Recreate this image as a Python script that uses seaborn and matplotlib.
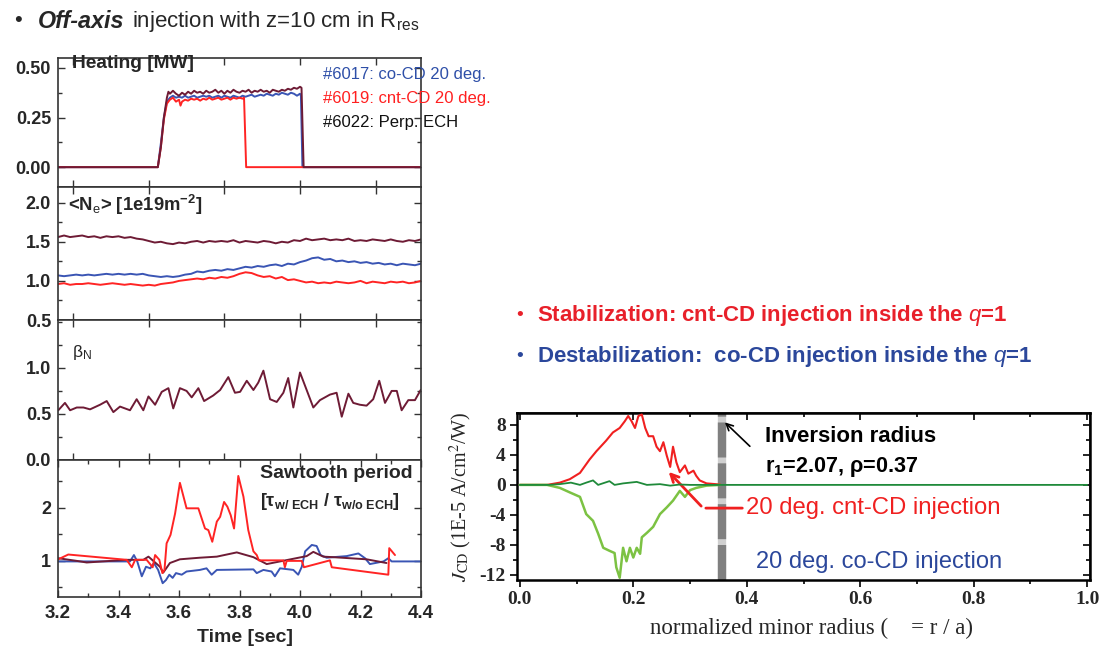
import matplotlib
matplotlib.use("Agg")
import matplotlib.pyplot as plt
import seaborn as sns
from matplotlib.ticker import MultipleLocator

# ---------------- data ----------------
# Heating power [MW]
t_heat_co = [3.20, 3.53, 3.54, 3.55, 3.56, 3.57, 3.58, 3.59, 3.60, 3.61, 3.62, 3.63, 3.64, 3.65, 3.66,
             3.67, 3.68, 3.69, 3.70, 3.71, 3.72, 3.73, 3.74, 3.75, 3.76, 3.77, 3.78, 3.79, 3.80, 3.81,
             3.82, 3.83, 3.84, 3.85, 3.86, 3.87, 3.88, 3.89, 3.90, 3.91, 3.92, 3.93, 3.94, 3.95, 3.96,
             3.97, 3.98, 3.99, 4.00, 4.003, 4.008, 4.40]
p_heat_co = [0.0, 0.0, 0.12, 0.25, 0.33, 0.35, 0.36, 0.35, 0.355, 0.35, 0.36, 0.35, 0.355, 0.36, 0.35,
             0.355, 0.36, 0.355, 0.36, 0.35, 0.355, 0.36, 0.35, 0.36, 0.355, 0.35, 0.36, 0.355, 0.35, 0.36,
             0.355, 0.36, 0.365, 0.355, 0.36, 0.365, 0.36, 0.37, 0.365, 0.36, 0.37, 0.365, 0.375, 0.37, 0.365,
             0.375, 0.37, 0.36, 0.37, 0.36, 0.0, 0.0]
t_heat_cnt = [3.20, 3.53, 3.54, 3.55, 3.56, 3.57, 3.58, 3.59, 3.60, 3.605, 3.61, 3.62, 3.63, 3.64, 3.65,
              3.66, 3.67, 3.68, 3.69, 3.70, 3.71, 3.72, 3.73, 3.74, 3.75, 3.76, 3.77, 3.78, 3.79, 3.80,
              3.81, 3.815, 3.822, 4.40]
p_heat_cnt = [0.0, 0.0, 0.10, 0.24, 0.32, 0.34, 0.35, 0.33, 0.34, 0.31, 0.33, 0.34, 0.335, 0.345, 0.34,
              0.345, 0.335, 0.345, 0.34, 0.35, 0.34, 0.345, 0.35, 0.34, 0.345, 0.35, 0.34, 0.35, 0.345, 0.35,
              0.345, 0.35, 0.0, 0.0]
t_heat_perp = [3.20, 3.53, 3.54, 3.55, 3.56, 3.565, 3.57, 3.58, 3.59, 3.60, 3.61, 3.62, 3.63, 3.64, 3.65,
               3.66, 3.67, 3.68, 3.69, 3.70, 3.71, 3.72, 3.73, 3.74, 3.75, 3.76, 3.77, 3.78, 3.79, 3.80,
               3.81, 3.82, 3.83, 3.84, 3.85, 3.86, 3.87, 3.88, 3.89, 3.90, 3.91, 3.92, 3.93, 3.94, 3.95,
               3.96, 3.97, 3.98, 3.99, 4.00, 4.005, 4.012, 4.40]
p_heat_perp = [0.0, 0.0, 0.10, 0.25, 0.35, 0.38, 0.37, 0.385, 0.37, 0.36, 0.375, 0.365, 0.38, 0.37, 0.385,
               0.375, 0.38, 0.37, 0.385, 0.375, 0.38, 0.39, 0.375, 0.385, 0.37, 0.385, 0.375, 0.39, 0.38, 0.375,
               0.385, 0.38, 0.39, 0.375, 0.385, 0.38, 0.39, 0.38, 0.385, 0.375, 0.39, 0.385, 0.38, 0.39, 0.385,
               0.395, 0.39, 0.40, 0.395, 0.405, 0.40, 0.0, 0.0]

# Line-averaged density [1e19 m^-2]
t_dens = [3.20, 3.22, 3.24, 3.26, 3.28, 3.30, 3.32, 3.34, 3.36, 3.38, 3.40, 3.42, 3.44, 3.46, 3.48,
          3.50, 3.52, 3.54, 3.56, 3.58, 3.60, 3.62, 3.64, 3.66, 3.68, 3.70, 3.72, 3.74, 3.76, 3.78,
          3.80, 3.82, 3.84, 3.86, 3.88, 3.90, 3.92, 3.94, 3.96, 3.98, 4.00, 4.02, 4.04, 4.06, 4.08,
          4.10, 4.12, 4.14, 4.16, 4.18, 4.20, 4.22, 4.24, 4.26, 4.28, 4.30, 4.32, 4.34, 4.36, 4.38, 4.40]
ne_perp = [1.56, 1.58, 1.56, 1.57, 1.58, 1.56, 1.57, 1.55, 1.57, 1.56, 1.57, 1.55, 1.56, 1.54, 1.53,
           1.51, 1.49, 1.50, 1.48, 1.47, 1.49, 1.48, 1.50, 1.51, 1.49, 1.51, 1.50, 1.51, 1.50, 1.52,
           1.49, 1.51, 1.50, 1.49, 1.51, 1.50, 1.48, 1.50, 1.49, 1.52, 1.51, 1.54, 1.52, 1.53, 1.54,
           1.52, 1.53, 1.52, 1.54, 1.51, 1.52, 1.51, 1.53, 1.52, 1.51, 1.53, 1.51, 1.50, 1.52, 1.51, 1.53]
ne_co = [1.07, 1.06, 1.07, 1.08, 1.07, 1.08, 1.07, 1.08, 1.09, 1.08, 1.09, 1.08, 1.09, 1.08, 1.09,
         1.07, 1.06, 1.05, 1.06, 1.05, 1.06, 1.08, 1.09, 1.12, 1.11, 1.13, 1.14, 1.13, 1.15, 1.14,
         1.16, 1.18, 1.17, 1.19, 1.18, 1.20, 1.21, 1.19, 1.22, 1.21, 1.24, 1.26, 1.29, 1.30, 1.27,
         1.28, 1.25, 1.26, 1.24, 1.25, 1.23, 1.24, 1.22, 1.23, 1.21, 1.22, 1.20, 1.22, 1.21, 1.20, 1.22]
ne_cnt = [0.96, 0.97, 0.95, 0.96, 0.96, 0.97, 0.96, 0.95, 0.96, 0.97, 0.96, 0.95, 0.96, 0.95, 0.94,
          0.95, 0.94, 0.96, 0.97, 0.98, 1.00, 1.01, 1.02, 1.03, 1.02, 1.04, 1.03, 1.05, 1.04, 1.06,
          1.09, 1.11, 1.10, 1.07, 1.05, 1.06, 1.03, 1.05, 1.01, 1.02, 1.00, 0.98, 0.99, 0.97, 0.98,
          0.97, 0.99, 0.98, 0.97, 0.98, 1.00, 0.97, 0.99, 0.98, 0.97, 0.99, 0.98, 0.99, 0.97, 0.98, 1.00]

# Normalized beta
t_beta = [3.201, 3.223, 3.240, 3.262, 3.284, 3.306, 3.339, 3.361, 3.383, 3.405, 3.438, 3.460, 3.482,
          3.499, 3.521, 3.543, 3.565, 3.581, 3.603, 3.625, 3.642, 3.664, 3.683, 3.713, 3.736, 3.763,
          3.785, 3.802, 3.824, 3.846, 3.862, 3.879, 3.901, 3.923, 3.945, 3.961, 3.978, 4.000, 4.022,
          4.044, 4.066, 4.099, 4.121, 4.138, 4.160, 4.176, 4.198, 4.220, 4.242, 4.262, 4.281, 4.303,
          4.320, 4.336, 4.358, 4.380, 4.399]
beta_n = [0.54, 0.62, 0.54, 0.57, 0.57, 0.55, 0.60, 0.64, 0.52, 0.58, 0.54, 0.66, 0.54,
          0.69, 0.60, 0.74, 0.78, 0.56, 0.78, 0.75, 0.68, 0.78, 0.64, 0.70, 0.76, 0.90,
          0.73, 0.74, 0.86, 0.76, 0.84, 0.97, 0.66, 0.63, 0.73, 0.89, 0.57, 0.95, 0.76,
          0.57, 0.65, 0.71, 0.73, 0.47, 0.72, 0.62, 0.60, 0.59, 0.66, 0.86, 0.62, 0.75,
          0.75, 0.54, 0.65, 0.65, 0.76]

# Sawtooth period ratio
t_st_cnt = [3.201, 3.234, 3.427, 3.444, 3.455, 3.493, 3.513, 3.521, 3.535, 3.545, 3.552, 3.559, 3.572,
            3.587, 3.603, 3.625, 3.664, 3.686, 3.697, 3.710, 3.725, 3.736, 3.749, 3.760, 3.771, 3.782,
            3.796, 3.813, 3.829, 3.846, 3.857, 3.864, 3.945, 3.950, 3.956, 4.006, 4.013, 4.099, 4.105,
            4.292, 4.295, 4.314]
st_cnt = [1.03, 1.12, 1.02, 0.88, 1.02, 1.02, 0.88, 1.11, 1.02, 0.77, 0.83, 1.33, 1.49,
          1.89, 2.47, 1.99, 1.99, 1.61, 1.58, 1.36, 1.74, 1.83, 2.11, 2.02, 1.86, 1.61,
          2.60, 2.21, 1.58, 1.18, 1.11, 1.01, 1.01, 0.88, 1.00, 1.00, 0.88, 1.01, 0.88,
          0.74, 1.24, 1.11]
t_st_co = [3.201, 3.438, 3.451, 3.462, 3.477, 3.491, 3.505, 3.517, 3.531, 3.546, 3.557, 3.568, 3.579,
           3.590, 3.609, 3.625, 3.669, 3.691, 3.708, 3.725, 3.846, 3.857, 3.879, 3.906, 3.917, 3.934,
           3.978, 3.994, 4.006, 4.017, 4.039, 4.055, 4.068, 4.088, 4.154, 4.193, 4.215, 4.231, 4.276,
           4.292, 4.303, 4.399]
st_co = [0.99, 0.99, 1.11, 0.99, 0.71, 0.89, 0.86, 0.96, 0.83, 0.58, 0.64, 0.74, 0.68,
         0.77, 0.74, 0.80, 0.83, 0.86, 0.74, 0.83, 0.84, 0.77, 0.83, 0.80, 0.71, 0.86,
         0.83, 0.74, 0.89, 1.18, 1.30, 1.28, 1.11, 1.06, 1.09, 1.14, 1.05, 0.94, 0.99,
         1.05, 0.99, 0.99]
t_st_perp = [3.201, 3.262, 3.295, 3.427, 3.482, 3.499, 3.517, 3.537, 3.548, 3.570, 3.603, 3.669, 3.725,
             3.791, 3.846, 3.890, 3.934, 4.022, 4.044, 4.077, 4.110, 4.220, 4.286]
st_perp = [1.05, 1.00, 0.97, 1.02, 1.02, 1.08, 0.99, 0.89, 0.78, 0.96, 1.03, 1.06, 1.08,
           1.16, 1.07, 0.94, 0.99, 1.09, 1.17, 1.08, 1.07, 1.03, 0.96]

# Current-drive profile J_CD [1E-5 A/cm^2/W] vs normalized radius
rho_cnt = [0.0, 0.048, 0.0705, 0.088, 0.106, 0.123, 0.135, 0.152, 0.164, 0.176, 0.185, 0.191, 0.197,
           0.203, 0.209, 0.215, 0.221, 0.227, 0.235, 0.241, 0.247, 0.253, 0.259, 0.265, 0.270, 0.276,
           0.282, 0.291, 0.297, 0.306, 0.311, 0.317, 0.329, 0.353]
j_cnt = [0.0, 0.0, 0.3, 0.76, 1.6, 3.4, 4.5, 5.9, 7.0, 7.6, 8.5, 9.2, 8.5,
         7.6, 9.2, 9.4, 7.6, 6.5, 6.5, 5.1, 4.5, 5.7, 3.9, 2.4, 5.1, 3.0,
         1.7, 2.6, 1.5, 1.9, 1.2, 0.6, 0.2, 0.05]
rho_co = [0.0, 0.048, 0.0705, 0.088, 0.106, 0.117, 0.129, 0.138, 0.147, 0.158, 0.167, 0.170, 0.176,
          0.182, 0.188, 0.194, 0.200, 0.206, 0.212, 0.215, 0.224, 0.235, 0.247, 0.259, 0.270, 0.282,
          0.291, 0.300, 0.311, 0.329, 0.353]
j_co = [0.0, 0.0, -0.4, -1.0, -1.6, -3.9, -4.8, -6.5, -8.4, -8.8, -9.1, -11.0, -12.4,
        -8.4, -10.2, -8.4, -9.7, -8.4, -9.2, -7.0, -6.4, -5.6, -3.9, -3.0, -2.1, -0.8,
        -1.6, -0.7, -0.4, -0.1, 0.0]
rho_perp = [0.0, 0.05, 0.07, 0.09, 0.106, 0.117, 0.129, 0.138, 0.158, 0.167, 0.182, 0.206, 0.224,
            0.247, 0.265, 0.282, 0.30, 0.36, 1.0]
j_perp = [0.0, 0.0, 0.1, 0.3, 0.0, 0.3, 0.6, 0.0, 0.5, 0.0, 0.2, 0.4, 0.0,
          0.1, -0.1, 0.05, 0.0, 0.0, 0.0]
rho_inversion = 0.357

# ---------------- style ----------------
sns.set_theme(style="ticks")
plt.rcParams["font.family"] = ["Liberation Sans", "DejaVu Sans"]
plt.rcParams["mathtext.fontset"] = "custom"
plt.rcParams["mathtext.rm"] = "Liberation Sans"
plt.rcParams["mathtext.it"] = "Liberation Sans:italic"
plt.rcParams["mathtext.bf"] = "Liberation Sans:bold"
plt.rcParams["axes.unicode_minus"] = False

C_BLUE = "#3a55b4"
C_RED = "#ff2424"
C_MAROON = "#6e1b35"
C_DGREEN = "#1f8a3a"
C_LGREEN = "#7cc243"

W, H = 1101, 652
fig = plt.figure(figsize=(W / 100, H / 100), dpi=100)
fig.patch.set_facecolor("white")


def box(l, t, r, b):
    return [l / W, 1 - b / H, (r - l) / W, (b - t) / H]


def ftext(x, y, s, **kw):
    kw.setdefault("va", "center")
    kw.setdefault("ha", "left")
    return fig.text(x / W, 1 - y / H, s, **kw)


ax1 = fig.add_axes(box(58, 58, 421, 187))
ax2 = fig.add_axes(box(58, 187, 421, 320))
ax3 = fig.add_axes(box(58, 320, 421, 460))
ax4 = fig.add_axes(box(58, 460, 421, 597))
ax5 = fig.add_axes(box(517, 413, 1090, 580))

LW = 1.4
kw = dict(estimator=None, sort=False, legend=False)
sns.lineplot(x=t_heat_co, y=p_heat_co, ax=ax1, color=C_BLUE, lw=LW, **kw)
sns.lineplot(x=t_heat_cnt, y=p_heat_cnt, ax=ax1, color=C_RED, lw=LW, **kw)
sns.lineplot(x=t_heat_perp, y=p_heat_perp, ax=ax1, color=C_MAROON, lw=LW, **kw)

sns.lineplot(x=t_dens, y=ne_perp, ax=ax2, color=C_MAROON, lw=LW, **kw)
sns.lineplot(x=t_dens, y=ne_co, ax=ax2, color=C_BLUE, lw=LW, **kw)
sns.lineplot(x=t_dens, y=ne_cnt, ax=ax2, color=C_RED, lw=LW, **kw)

sns.lineplot(x=t_beta, y=beta_n, ax=ax3, color=C_MAROON, lw=LW, **kw)

sns.lineplot(x=t_st_co, y=st_co, ax=ax4, color=C_BLUE, lw=LW, **kw)
sns.lineplot(x=t_st_perp, y=st_perp, ax=ax4, color=C_MAROON, lw=LW, **kw)
sns.lineplot(x=t_st_cnt, y=st_cnt, ax=ax4, color=C_RED, lw=LW, **kw)

lims = [(-0.1, 0.55), (0.5, 2.2), (0.0, 1.52), (0.32, 2.9)]
yt = [([0, 0.25, 0.5], ["0.00", "0.25", "0.50"], 0.125),
      ([0.5, 1.0, 1.5, 2.0], ["0.5", "1.0", "1.5", "2.0"], 0.25),
      ([0.0, 0.5, 1.0], ["0.0", "0.5", "1.0"], 0.25),
      ([1, 2], ["1", "2"], 0.5)]
for ax, lim, (tk, tl, mn) in zip([ax1, ax2, ax3, ax4], lims, yt):
    ax.set_xlim(3.2, 4.4)
    ax.set_ylim(*lim)
    ax.set_xlabel("")
    ax.set_ylabel("")
    ax.set_yticks(tk)
    ax.set_yticklabels(tl, fontweight="bold", fontsize=13)
    ax.yaxis.set_minor_locator(MultipleLocator(mn))
    for s in ax.spines.values():
        s.set_color("#333333")
        s.set_linewidth(1.2)
        s.set_visible(True)
    ax.tick_params(which="both", direction="in", top=True, right=True,
                   color="#333333", width=1.0)
    ax.tick_params(which="major", length=5, pad=5)
    ax.tick_params(which="minor", length=3)
    ax.set_facecolor("white")

for ax in [ax1, ax2, ax3]:
    ax.set_xticks([3.25, 3.5, 3.75, 4.0, 4.25])
    ax.tick_params(axis="x", labelbottom=False)
ax4.set_xticks([3.2, 3.4, 3.6, 3.8, 4.0, 4.2, 4.4])
ax4.set_xticklabels(["3.2", "3.4", "3.6", "3.8", "4.0", "4.2", "4.4"], fontweight="bold", fontsize=13.5)
ax4.xaxis.set_minor_locator(MultipleLocator(0.1))
ax4.tick_params(axis="x", pad=6)

# panel labels
ftext(72, 63, "Heating [MW]", fontsize=13.8, fontweight="bold")
ftext(68, 205, r"<N$_{\mathrm{e}}$> [1e19m$^{\mathbf{-2}}$]", fontsize=13.3, fontweight="bold")
ftext(72, 352, r"β$_{\mathrm{N}}$", fontsize=12.5)
ftext(260, 473, "Sawtooth period", fontsize=14, fontweight="bold")
ftext(260, 502, r"[τ$_{\mathbf{w/\ ECH}}$ / τ$_{\mathbf{w/o\ ECH}}$]", fontsize=13, fontweight="bold")
ftext(323, 74, "#6017: co-CD 20 deg.", fontsize=12, color="#2e4fa8")
ftext(323, 98, "#6019: cnt-CD 20 deg.", fontsize=12, color="#ff2020")
ftext(323, 122, "#6022: Perp. ECH", fontsize=12, color="#111111")
ftext(245, 637, "Time [sec]", fontsize=14, fontweight="bold", ha="center")

# title line
ftext(14, 21, "•", fontsize=16)
ftext(38, 21, "Off-axis", fontsize=16.8, fontweight="bold", fontstyle="italic")
ftext(132, 21, r"injection with z=10 cm in R$_{\mathrm{res}}$", fontsize=16)

# ---------------- right panel ----------------
ax5.axvline(rho_inversion, color="#d0d0d0", lw=6, zorder=1)
ax5.axvline(rho_inversion, color="#808080", lw=6, zorder=1.1, linestyle=(0, (4.2, 0.7)))
sns.lineplot(x=rho_cnt, y=j_cnt, ax=ax5, color="#f02020", lw=1.5, zorder=3, **kw)
sns.lineplot(x=rho_co, y=j_co, ax=ax5, color=C_LGREEN, lw=1.8, zorder=3, **kw)
sns.lineplot(x=rho_perp, y=j_perp, ax=ax5, color=C_DGREEN, lw=1.3, zorder=4, **kw)
ax5.set_xlim(-0.005, 1.005)
ax5.set_ylim(-12.7, 9.6)
ax5.set_xlabel("")
ax5.set_ylabel("")
ax5.xaxis.set_minor_locator(MultipleLocator(0.1))
ax5.set_yticks([-12, -8, -4, 0, 4, 8])
ax5.yaxis.set_minor_locator(MultipleLocator(2))
ax5.set_xticks([0, 0.2, 0.4, 0.6, 0.8, 1.0])
ax5.set_xticklabels(["0.0", "0.2", "0.4", "0.6", "0.8", "1.0"], family="Liberation Serif",
                    fontweight="bold", fontsize=14)
ax5.set_yticklabels(["-12", "-8", "-4", "0", "4", "8"], family="Liberation Serif",
                    fontweight="bold", fontsize=14)
for s in ax5.spines.values():
    s.set_color("black")
    s.set_linewidth(1.8)
    s.set_visible(True)
ax5.tick_params(which="both", direction="out", color="black", width=1.2)
ax5.tick_params(which="major", length=5, pad=3)
ax5.tick_params(which="minor", length=3)
sx = ax5.secondary_xaxis("top")
sx.xaxis.set_major_locator(MultipleLocator(0.2))
sx.xaxis.set_minor_locator(MultipleLocator(0.1))
sx.tick_params(which="both", direction="in", labeltop=False, color="black", width=1.2)
sx.tick_params(which="major", length=5)
sx.tick_params(which="minor", length=3)
sy = ax5.secondary_yaxis("right")
sy.yaxis.set_major_locator(MultipleLocator(4))
sy.yaxis.set_minor_locator(MultipleLocator(2))
sy.tick_params(which="both", direction="in", labelright=False, color="black", width=1.2)
sy.tick_params(which="major", length=5)
sy.tick_params(which="minor", length=3)

ax5.set_ylabel(r"$J_{\mathrm{CD}}$ (1E-5 A/cm$^2$/W)", family="Liberation Serif", fontsize=14.5,
               math_fontfamily="stix")
ax5.yaxis.set_label_coords(-0.075, 0.5)
ftext(811, 628, "normalized minor radius (    = r / a)", family="Liberation Serif", fontsize=16.5,
      ha="center")

ax5.annotate("", xy=(0.358, 8.6), xytext=(0.409, 4.9),
             arrowprops=dict(arrowstyle="->", color="black", lw=1.2))
ax5.annotate("", xy=(0.259, 2.0), xytext=(0.323, -3.1),
             arrowprops=dict(arrowstyle="->", color="#f02020", lw=2.0, mutation_scale=14))
ax5.annotate("", xy=(0.323, -3.1), xytext=(0.397, -3.1),
             arrowprops=dict(arrowstyle="-", color="#f02020", lw=2.0))
ftext(765, 436, "Inversion radius", fontsize=16, fontweight="bold", color="black")
ftext(765, 467, r"r$_{\mathbf{1}}$=2.07, ρ=0.37", fontsize=15.6, fontweight="bold", color="black")
ftext(746, 508, "20 deg. cnt-CD injection", fontsize=17.2, color="#f02020")
ftext(756, 562, "20 deg. co-CD injection", fontsize=17, color="#2b479b")

ftext(516, 315, "•", fontsize=14, color="#e8202a")
ftext(537, 315, r"Stabilization: cnt-CD injection inside the $\mathit{q}$=1", fontsize=16,
      fontweight="bold", color="#e8202a")
ftext(516, 357, "•", fontsize=14, color="#2b479b")
ftext(537, 357, r"Destabilization:  co-CD injection inside the $\mathit{q}$=1", fontsize=16,
      fontweight="bold", color="#2b479b")

fig.savefig("out.png", dpi=100, facecolor="white")
